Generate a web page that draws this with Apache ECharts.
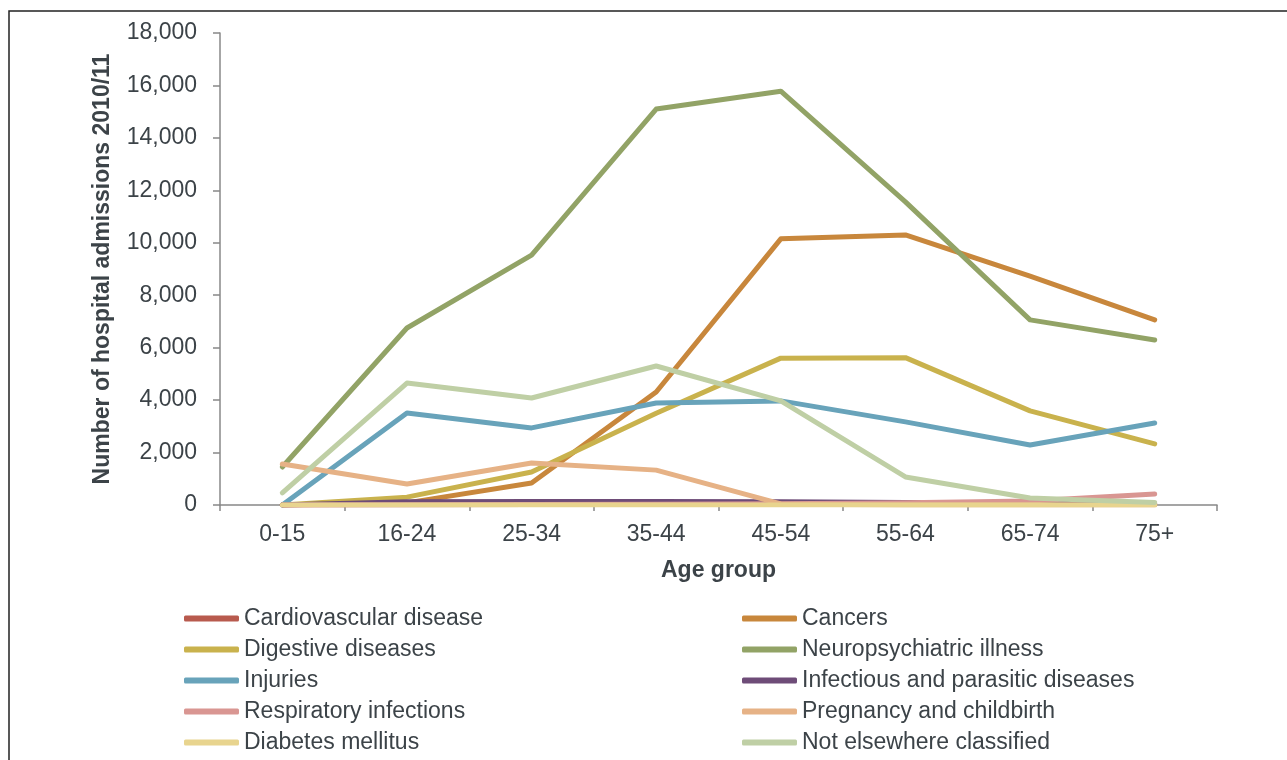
<!DOCTYPE html>
<html>
<head>
<meta charset="utf-8">
<script src="https://cdn.jsdelivr.net/npm/echarts@6/dist/echarts.min.js"></script>
<style>
html,body{margin:0;padding:0;background:#fff;}
#chart{width:1287px;height:760px;}
</style>
</head>
<body>
<div id="chart"></div>
<script>
const categories = ['0-15','16-24','25-34','35-44','45-54','55-64','65-74','75+'];
const yTicks = [0,2000,4000,6000,8000,10000,12000,14000,16000,18000];

const cardiovascular = [0,10,20,20,20,20,20,20];
const cancers = [0,80,840,4310,10150,10300,8730,7060];
const digestive = [0,300,1260,3500,5600,5620,3590,2330];
const neuropsychiatric = [1450,6750,9530,15100,15780,11560,7060,6290];
const injuries = [0,3510,2940,3890,3970,3170,2290,3130];
const infectious = [0,120,130,130,120,100,70,60];
const respiratory = [0,10,20,30,50,90,150,420];
const pregnancy = [1560,800,1600,1330,40,0,0,0];
const diabetes = [0,0,0,0,0,0,0,0];
const notElsewhere = [460,4650,4080,5300,3970,1070,270,100];

const seriesNames = ['Cardiovascular disease','Cancers','Digestive diseases','Neuropsychiatric illness','Injuries','Infectious and parasitic diseases','Respiratory infections','Pregnancy and childbirth','Diabetes mellitus','Not elsewhere classified'];
const seriesData = [cardiovascular,cancers,digestive,neuropsychiatric,injuries,infectious,respiratory,pregnancy,diabetes,notElsewhere];
const seriesColors = ['#b85a4e','#c8873c','#c9b24d','#92a366','#68a3ba','#6e4c78','#d99692','#e6b286','#e8d48e','#bfcfa5'];

const textColor = '#3c4348';
const fontFam = '"Liberation Sans", Arial, sans-serif';

const chart = echarts.init(document.getElementById('chart'), null, {renderer:'canvas'});

const legendCommon = {
  orient: 'vertical',
  icon: 'roundRect',
  itemWidth: 55,
  itemHeight: 6,
  itemGap: 8,
  padding: 0,
  textStyle: {color: textColor, fontSize: 23, fontFamily: fontFam, padding:[0,0,0,0]},
  selectedMode: false
};

const option = {
  backgroundColor: '#fff',
  animation: false,
  graphic: [{
    type: 'rect',
    shape: {x: 9, y: 11, width: 1300, height: 800},
    style: {fill: 'none', stroke: '#222', lineWidth: 1.5},
    silent: true
  }],
  grid: {left: 220, right: 70, top: 33, bottom: 255, containLabel: false},
  legend: [
    Object.assign({}, legendCommon, {left: 184, top: 607, data: [seriesNames[0],seriesNames[2],seriesNames[4],seriesNames[6],seriesNames[8]]}),
    Object.assign({}, legendCommon, {left: 742, top: 607, data: [seriesNames[1],seriesNames[3],seriesNames[5],seriesNames[7],seriesNames[9]]})
  ],
  xAxis: {
    type: 'category',
    data: categories,
    boundaryGap: true,
    name: 'Age group',
    nameLocation: 'middle',
    nameGap: 54,
    nameTextStyle: {color: textColor, fontSize: 23, fontWeight: 'bold', fontFamily: fontFam},
    axisLine: {lineStyle: {color: '#888', width: 1.5}},
    axisTick: {show: true, length: 6, lineStyle: {color: '#888', width: 1.5}},
    axisLabel: {color: textColor, fontSize: 23, fontFamily: fontFam, margin: 18},
    splitLine: {show: false}
  },
  yAxis: {
    type: 'value',
    min: yTicks[0],
    max: yTicks[yTicks.length-1],
    interval: yTicks[1]-yTicks[0],
    name: 'Number of hospital admissions 2010/11',
    nameLocation: 'middle',
    nameGap: 106,
    nameTextStyle: {color: textColor, fontSize: 23, fontWeight: 'bold', fontFamily: fontFam},
    axisLine: {show: true, lineStyle: {color: '#888', width: 1.5}},
    axisTick: {show: true, length: 7, lineStyle: {color: '#888', width: 1.5}},
    axisLabel: {color: textColor, fontSize: 23, fontFamily: fontFam, margin: 23,
      formatter: v => v.toLocaleString('en-US')},
    splitLine: {show: false}
  },
  series: seriesNames.map((n,i) => ({
    name: n,
    type: 'line',
    data: seriesData[i],
    symbol: 'none',
    smooth: false,
    color: seriesColors[i],
    lineStyle: {width: 5, color: seriesColors[i], cap: 'round', join: 'round'},
    emphasis: {disabled: true}
  }))
};
chart.setOption(option);
</script>
</body>
</html>
